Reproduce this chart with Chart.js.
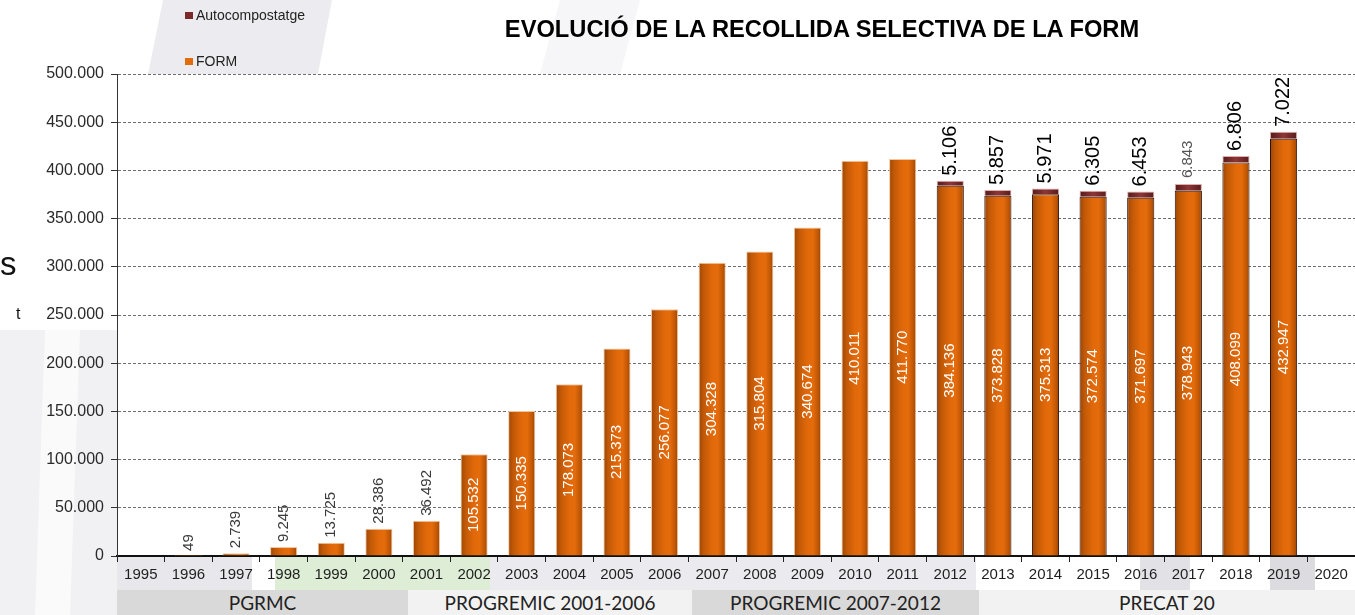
<!DOCTYPE html>
<html>
<head>
<meta charset="utf-8">
<script src="https://cdn.jsdelivr.net/npm/chart.js@4.4.0/dist/chart.umd.min.js"></script>
<style>
html,body{margin:0;padding:0;background:#fff;}
#wrap{position:relative;width:1355px;height:615px;overflow:hidden;font-family:"Liberation Sans",Arial,sans-serif;}
#bgsvg{position:absolute;left:0;top:0;z-index:0;}
#c{position:absolute;left:0;top:0;z-index:1;}
.txt{position:absolute;z-index:2;white-space:nowrap;}
#title{left:822px;top:16px;transform:translateX(-50%);font-weight:bold;font-size:23.7px;color:#000;}
.leg{position:absolute;z-index:2;font-size:14px;color:#222;left:185px;display:flex;align-items:center;}
.leg i{display:inline-block;width:8px;height:7px;margin-right:3px;}
.band{position:absolute;z-index:2;top:590px;height:25px;display:flex;align-items:center;justify-content:center;font-family:Lato,"Open Sans",sans-serif;font-size:19px;color:#222;}
</style>
</head>
<body>
<div id="wrap">
<svg id="bgsvg" width="1355" height="615">
  <polygon points="163,0 332,0 318,74 148,74" fill="#ECECF0"/>
  <polygon points="560,0 640,0 620,74 540,74" fill="#F6F6F8"/>
  <polygon points="0,330 117,330 117,615 0,615" fill="#F1F1F4"/>
  <polygon points="45,330 80,330 70,615 35,615" fill="#FAFAFB"/>
  <rect x="117" y="557" width="135" height="33" fill="#E8E8EC"/>
  <rect x="275" y="557" width="215" height="33" fill="#DDEDD6"/>
  <rect x="490" y="557" width="486" height="33" fill="#EBEBEF"/>
  <rect x="1140" y="557" width="50" height="33" fill="#E2E2E6"/>
  <rect x="1270" y="557" width="45" height="33" fill="#DCDCE0"/>
</svg>
<canvas id="c" width="1355" height="615"></canvas>
<div id="title" class="txt">EVOLUCIÓ DE LA RECOLLIDA SELECTIVA DE LA FORM</div>
<div class="leg" style="top:7px;"><i style="background:#7B2A2A"></i>Autocompostatge</div>
<div class="leg" style="top:53px;"><i style="background:#E36C0A"></i>FORM</div>
<div class="txt" style="left:0px;top:245px;font-size:33px;color:#111;">s</div>
<div class="txt" style="left:16px;top:305px;font-size:16px;color:#111;">t</div>
<div class="band" style="left:117px;width:291px;background:#D9D9D9;">PGRMC</div>
<div class="band" style="left:408px;width:284px;background:#F2F2F2;">PROGREMIC 2001-2006</div>
<div class="band" style="left:692px;width:287px;background:#D9D9D9;">PROGREMIC 2007-2012</div>
<div class="band" style="left:979px;width:376px;background:#F2F2F2;">PRECAT 20</div>
</div>
<script>
const years = ['1995','1996','1997','1998','1999','2000','2001','2002','2003','2004','2005','2006','2007','2008','2009','2010','2011','2012','2013','2014','2015','2016','2017','2018','2019','2020'];
const formValues = [null,49,2739,9245,13725,28386,36492,105532,150335,178073,215373,256077,304328,315804,340674,410011,411770,384136,373828,375313,372574,371697,378943,408099,432947,null];
const autocompValues = [null,null,null,null,null,null,null,null,null,null,null,null,null,null,null,null,null,5106,5857,5971,6305,6453,6843,6806,7022,null];
const yTicks = [0,50000,100000,150000,200000,250000,300000,350000,400000,450000,500000];

const BAR_PCT = 0.57;
const FONT = '"Liberation Sans", Arial, sans-serif';
const fmt = v => String(v).replace(/\B(?=(\d{3})+(?!\d))/g, '.');

function grad(ctx, stops, fallback){
  const chart = ctx.chart;
  if (!chart.chartArea || ctx.dataIndex === undefined) return fallback;
  const xs = chart.scales.x;
  const cx = xs.getPixelForValue(ctx.dataIndex);
  const w = (xs.getPixelForValue(1) - xs.getPixelForValue(0)) * BAR_PCT;
  const g = chart.ctx.createLinearGradient(cx - w/2, 0, cx + w/2, 0);
  stops.forEach(s => g.addColorStop(s[0], s[1]));
  return g;
}
const formStops = [[0,'#9C4604'],[0.2,'#C35A07'],[0.5,'#E2690A'],[0.7,'#E56C0B'],[0.88,'#C25806'],[1,'#9A4504']];
const autoStops = [[0,'#541B1B'],[0.5,'#8E3636'],[1,'#561C1C']];

const labelPlugin = {
  id: 'barLabels',
  afterDatasetsDraw(chart, args, opts){
    const c = chart.ctx;
    chart.data.datasets.forEach((ds, di) => {
      const meta = chart.getDatasetMeta(di);
      meta.data.forEach((el, i) => {
        const v = ds.data[i];
        if (v == null) return;
        let size, color, y, align;
        if (di === 0 && v >= 100000) {
          size = 15; color = '#FFFFFF'; y = (el.y + el.base) / 2; align = 'center';
        } else if (di === 0) {
          size = 15; color = '#3A3A3A'; y = el.y - 5; align = 'left';
        } else {
          const ov = (opts.overrides || {})[chart.data.labels[i]];
          size = ov ? ov.size : 20; color = ov ? ov.color : '#000'; y = el.y - (ov ? ov.gap : 5); align = 'left';
        }
        c.save();
        c.translate(el.x, y);
        c.rotate(-Math.PI/2);
        c.font = size + 'px ' + FONT;
        c.fillStyle = color;
        c.textAlign = align;
        c.textBaseline = 'middle';
        c.fillText(fmt(v), 0, 0);
        c.restore();
      });
    });
  }
};

const whitePlot = {
  id: 'whitePlot',
  beforeDraw(chart){
    const a = chart.chartArea, c = chart.ctx;
    c.save(); c.fillStyle = '#fff'; c.fillRect(a.left, a.top, a.right - a.left, a.bottom - a.top); c.restore();
  }
};

new Chart(document.getElementById('c'), {
  type: 'bar',
  data: {
    labels: years,
    datasets: [
      {
        label: 'FORM',
        data: formValues,
        backgroundColor: ctx => grad(ctx, formStops, '#E36C0A'),
        borderColor: ctx => (ctx.dataIndex !== undefined && autocompValues[ctx.dataIndex] != null) ? '#2E0F0A' : 'rgba(242,196,156,0.95)',
        borderWidth: {top: 1, left: 1, right: 1, bottom: 0},
        borderSkipped: 'bottom',
        barPercentage: BAR_PCT,
        categoryPercentage: 1
      },
      {
        label: 'Autocompostatge',
        data: autocompValues,
        backgroundColor: ctx => grad(ctx, autoStops, '#7B2A2A'),
        borderColor: 'rgba(222,170,165,0.95)',
        borderWidth: {top: 1, left: 1, right: 1, bottom: 0},
        borderSkipped: 'bottom',
        barPercentage: BAR_PCT,
        categoryPercentage: 1
      }
    ]
  },
  options: {
    responsive: false,
    animation: false,
    layout: {padding: {top: 74, right: 0, bottom: 0, left: 0}},
    plugins: {
      legend: {display: false},
      title: {display: false},
      tooltip: {enabled: false},
      barLabels: {overrides: {'2017': {size: 15, color: '#555', gap: 6}}}
    },
    scales: {
      x: {
        stacked: true,
        offset: true,
        grid: {offset: true, drawOnChartArea: false, drawTicks: true, tickLength: 6, tickColor: '#222', color: '#222'},
        border: {display: true, color: '#111', width: 2},
        ticks: {font: {family: FONT, size: 15}, color: '#1E1E1E', padding: 4, maxRotation: 0, autoSkip: false},
        afterFit(s){ s.height = 59; }
      },
      y: {
        stacked: true,
        min: 0, max: 500000,
        afterBuildTicks(s){ s.ticks = yTicks.map(v => ({value: v})); },
        grid: {color: '#6E6E6E', lineWidth: 1, tickColor: '#333', tickBorderDash: [], tickLength: 6, drawTicks: true},
        border: {display: true, color: '#333', width: 1, dash: [3, 2]},
        ticks: {font: {family: FONT, size: 16}, color: '#2A2A2A', padding: 7, callback: v => fmt(v)},
        afterFit(s){ s.width = 117; }
      }
    }
  },
  plugins: [whitePlot, labelPlugin]
});
</script>
</body>
</html>
